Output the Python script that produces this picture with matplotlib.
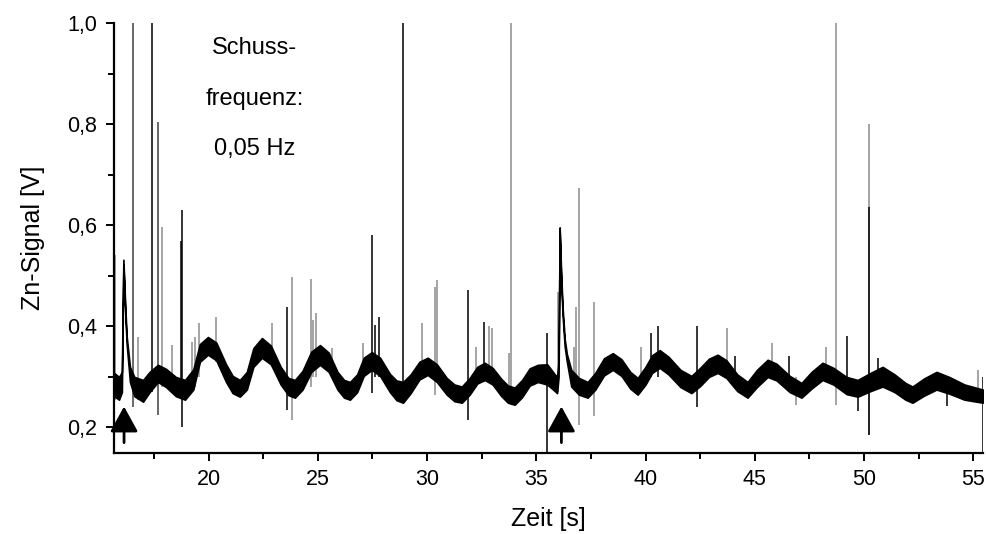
#!/usr/bin/env python3
import os

os.environ.setdefault("MPLBACKEND", "Agg")
import matplotlib.pyplot as plt
from matplotlib.ticker import FuncFormatter, MultipleLocator

plt.rcParams["font.family"] = ["Liberation Sans", "DejaVu Sans"]

# noise band of the Zn signal: time [s], lower and upper edge [V]
band_t = [15.67, 15.9, 16.03, 16.1, 16.18, 16.25, 16.4, 16.6, 17.0, 17.3,
          17.68, 18.05, 18.5, 18.92, 19.3, 19.6, 19.97, 20.35, 20.8, 21.1,
          21.43, 21.75, 22.05, 22.44, 22.85, 23.3, 23.65, 23.95, 24.3, 24.7,
          25.1, 25.5, 25.9, 26.2, 26.47, 26.8, 27.1, 27.47, 27.85, 28.3,
          28.6, 28.9, 29.25, 29.65, 30.03, 30.45, 30.9, 31.25, 31.59, 31.95,
          32.3, 32.64, 33.0, 33.4, 33.7, 34.01, 34.35, 34.7, 35.07, 35.5,
          35.85, 35.95, 36.02, 36.07, 36.13, 36.2, 36.3, 36.4, 36.6, 36.95,
          37.35, 37.7, 38.1, 38.5, 38.9, 39.3, 39.64, 40.0, 40.3, 40.65,
          41.05, 41.6, 42.1, 42.5, 42.9, 43.3, 43.7, 44.2, 44.67, 45.1,
          45.59, 46.0, 46.6, 47.14, 47.6, 48.1, 48.6, 49.2, 49.71, 50.3,
          50.85, 51.4, 51.9, 52.22, 52.75, 53.32, 53.9, 54.6, 55.44]
band_lo = [0.262, 0.255, 0.27, 0.522, 0.43, 0.365, 0.29, 0.262, 0.251, 0.27,
           0.29, 0.28, 0.262, 0.255, 0.275, 0.33, 0.344, 0.333, 0.29, 0.268,
           0.261, 0.275, 0.32, 0.338, 0.325, 0.285, 0.264, 0.259, 0.275, 0.31,
           0.324, 0.31, 0.275, 0.259, 0.255, 0.27, 0.302, 0.314, 0.302, 0.27,
           0.254, 0.249, 0.268, 0.295, 0.304, 0.29, 0.265, 0.252, 0.249, 0.265,
           0.287, 0.294, 0.285, 0.262, 0.249, 0.245, 0.26, 0.283, 0.29, 0.285,
           0.272, 0.268, 0.30, 0.588, 0.50, 0.425, 0.36, 0.33, 0.281, 0.265,
           0.259, 0.275, 0.303, 0.314, 0.302, 0.277, 0.265, 0.285, 0.308, 0.318,
           0.305, 0.28, 0.268, 0.282, 0.30, 0.308, 0.298, 0.272, 0.259, 0.28,
           0.30, 0.293, 0.27, 0.259, 0.277, 0.294, 0.285, 0.266, 0.261, 0.272,
           0.281, 0.27, 0.255, 0.249, 0.263, 0.275, 0.267, 0.255, 0.249]
band_hi = [0.308, 0.30, 0.31, 0.532, 0.445, 0.38, 0.32, 0.30, 0.294, 0.31,
           0.324, 0.316, 0.30, 0.294, 0.315, 0.365, 0.379, 0.368, 0.325, 0.302,
           0.294, 0.31, 0.357, 0.377, 0.362, 0.32, 0.298, 0.294, 0.312, 0.35,
           0.363, 0.348, 0.31, 0.294, 0.29, 0.305, 0.338, 0.349, 0.338, 0.306,
           0.293, 0.29, 0.305, 0.33, 0.338, 0.325, 0.298, 0.285, 0.281, 0.298,
           0.32, 0.328, 0.318, 0.296, 0.283, 0.279, 0.294, 0.317, 0.324, 0.325,
           0.305, 0.30, 0.33, 0.596, 0.515, 0.44, 0.375, 0.345, 0.314, 0.298,
           0.29, 0.308, 0.337, 0.347, 0.335, 0.31, 0.298, 0.32, 0.343, 0.353,
           0.34, 0.314, 0.302, 0.318, 0.336, 0.344, 0.333, 0.305, 0.29, 0.314,
           0.334, 0.326, 0.302, 0.288, 0.31, 0.328, 0.318, 0.30, 0.294, 0.308,
           0.32, 0.305, 0.288, 0.281, 0.297, 0.31, 0.30, 0.285, 0.275]

# single-sample spikes: time [s], top and bottom [V], shade
spike_t = [15.72, 16.55, 16.75, 17.39, 17.70, 17.85, 18.31, 18.72, 18.77, 19.22,
           19.38, 19.57, 20.34, 22.91, 23.60, 23.80, 24.68, 24.79, 24.91, 25.63,
           27.06, 27.49, 27.61, 27.81, 28.88, 29.75, 30.35, 30.46, 31.88, 32.22,
           32.61, 32.84, 32.99, 33.75, 33.86, 35.49, 35.99, 36.73, 36.80, 36.97,
           37.63, 39.78, 40.27, 40.57, 42.35, 43.71, 44.10, 45.77, 46.59, 46.87,
           48.27, 48.70, 49.22, 49.72, 50.23, 50.23, 50.63, 53.81, 55.21, 55.44]
spike_top = [0.541, 1.0, 0.379, 1.0, 0.805, 0.597, 0.363, 0.57, 0.63, 0.37,
             0.38, 0.407, 0.419, 0.407, 0.439, 0.498, 0.493, 0.413, 0.427, 0.357,
             0.367, 0.581, 0.403, 0.419, 1.0, 0.407, 0.479, 0.492, 0.473, 0.36,
             0.409, 0.40, 0.396, 0.348, 1.0, 0.387, 0.469, 0.36, 0.439, 0.673,
             0.449, 0.36, 0.387, 0.40, 0.40, 0.396, 0.341, 0.367, 0.341, 0.30,
             0.36, 1.0, 0.381, 0.29, 0.80, 0.636, 0.338, 0.29, 0.314, 0.30]
spike_bot = [0.255, 0.24, 0.255, 0.27, 0.225, 0.28, 0.27, 0.27, 0.20, 0.27,
             0.28, 0.30, 0.33, 0.32, 0.235, 0.215, 0.28, 0.30, 0.30, 0.30,
             0.30, 0.268, 0.30, 0.30, 0.27, 0.31, 0.265, 0.30, 0.215, 0.28,
             0.29, 0.29, 0.29, 0.26, 0.26, 0.15, 0.27, 0.28, 0.28, 0.205,
             0.222, 0.28, 0.30, 0.30, 0.24, 0.30, 0.29, 0.30, 0.28, 0.245,
             0.29, 0.245, 0.28, 0.232, 0.186, 0.186, 0.28, 0.242, 0.27, 0.15]
spike_shade = ["g", "d", "g", "k", "d", "g", "g", "k", "k", "g",
               "g", "g", "g", "g", "k", "g", "g", "g", "g", "g",
               "g", "k", "k", "k", "k", "g", "g", "g", "k", "g",
               "k", "g", "g", "g", "g", "k", "g", "g", "g", "g",
               "g", "g", "k", "k", "k", "g", "k", "g", "k", "g",
               "g", "g", "k", "k", "g", "k", "k", "k", "g", "k"]

arrow_t = [16.13, 36.15]
note_lines = ["Schuss-", "frequenz:", "0,05 Hz"]

SHADES = {"k": "black", "d": "#404040", "g": "#8c8c8c"}


def main() -> None:
    fig = plt.figure(figsize=(9.87, 5.34), dpi=100)
    ax = fig.add_axes([0.1155, 0.1522, 0.8805, 0.8042])

    ax.vlines(spike_t, spike_bot, spike_top,
              colors=[SHADES[s] for s in spike_shade], lw=1.1, zorder=2)
    ax.fill_between(band_t, band_lo, band_hi, facecolor="black",
                    edgecolor="black", lw=1.2, zorder=3)

    for t in arrow_t:
        ax.annotate("", xy=(t, 0.2415), xytext=(t, 0.170),
                    arrowprops=dict(arrowstyle="-|>,head_length=0.6,head_width=0.33",
                                    color="black", lw=2, mutation_scale=26,
                                    shrinkA=0, shrinkB=0),
                    zorder=4)

    for i, line in enumerate(note_lines):
        ax.text(22.1, 0.951 - 0.1 * i, line, ha="center", va="center", fontsize=17)

    ax.set_xlim(15.67, 55.45)
    ax.set_ylim(0.15, 1.0)
    ax.xaxis.set_major_locator(MultipleLocator(5))
    ax.xaxis.set_minor_locator(MultipleLocator(2.5))
    ax.yaxis.set_major_locator(MultipleLocator(0.2))
    ax.yaxis.set_minor_locator(MultipleLocator(0.1))
    ax.yaxis.set_major_formatter(FuncFormatter(lambda v, _: f"{v:.1f}".replace(".", ",")))
    ax.xaxis.set_major_formatter(FuncFormatter(lambda v, _: f"{v:.0f}"))

    for side in ("top", "right"):
        ax.spines[side].set_visible(False)
    for side in ("left", "bottom"):
        ax.spines[side].set_linewidth(1.6)
    ax.tick_params(which="major", direction="out", length=6, width=1.4, labelsize=15.5, pad=6)
    ax.tick_params(which="minor", direction="out", length=4, width=1.4)

    ax.set_xlabel("Zeit [s]", fontsize=18, labelpad=12)
    ax.set_ylabel("Zn-Signal [V]", fontsize=18, labelpad=16)

    fig.savefig("out.png", dpi=100)
    plt.close(fig)


if __name__ == "__main__":
    main()
